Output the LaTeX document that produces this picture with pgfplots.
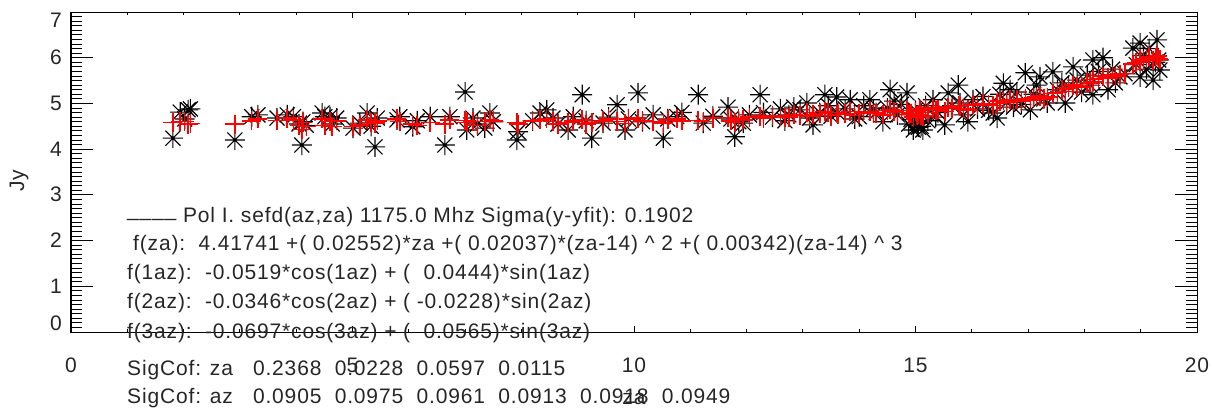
\documentclass[border=0pt]{standalone}
\usepackage{pgfplots}
\pgfplotsset{compat=1.18}
\usepackage{pgfplotstable}
\usepackage{fontspec}
\setmainfont{Liberation Sans}[LetterSpace=4]
\newcommand{\tf}{\fontsize{21bp}{25bp}\selectfont}
\pgfdeclareplotmark{idlast}{%
  \pgfpathmoveto{\pgfqpoint{-\pgfplotmarksize}{0pt}}\pgfpathlineto{\pgfqpoint{\pgfplotmarksize}{0pt}}%
  \pgfpathmoveto{\pgfqpoint{0pt}{-\pgfplotmarksize}}\pgfpathlineto{\pgfqpoint{0pt}{\pgfplotmarksize}}%
  \pgfpathmoveto{\pgfqpoint{-0.75\pgfplotmarksize}{-0.75\pgfplotmarksize}}\pgfpathlineto{\pgfqpoint{0.75\pgfplotmarksize}{0.75\pgfplotmarksize}}%
  \pgfpathmoveto{\pgfqpoint{-0.75\pgfplotmarksize}{0.75\pgfplotmarksize}}\pgfpathlineto{\pgfqpoint{0.75\pgfplotmarksize}{-0.75\pgfplotmarksize}}%
  \pgfusepathqstroke}
\pgfplotstableread{
x b r
1.81 4.24 4.58
1.94 4.81 4.60
2.02 4.66 4.61
2.08 4.86 4.55
2.12 4.88 4.56
2.91 4.20 4.55
3.21 4.71 4.62
3.32 4.75 4.66
3.66 4.68 4.63
3.84 4.75 4.68
3.95 4.71 4.64
4.05 4.55 4.52
4.10 4.09 4.43
4.12 4.60 4.58
4.18 4.52 4.50
4.46 4.79 4.66
4.51 4.71 4.52
4.60 4.71 4.60
4.64 4.55 4.49
4.72 4.68 4.62
5.01 4.46 4.49
5.13 4.57 4.53
5.26 4.79 4.64
5.33 4.50 4.58
5.40 4.05 4.57
5.44 4.68 4.62
5.79 4.64 4.66
5.84 4.71 4.60
6.07 4.49 4.55
6.15 4.62 4.52
6.38 4.71 4.58
6.64 4.09 4.55
6.73 4.71 4.64
7.00 5.25 4.63
7.03 4.42 4.58
7.14 4.68 4.60
7.22 4.55 4.52
7.35 4.46 4.60
7.44 4.79 4.65
7.50 4.60 4.62
7.92 4.20 4.58
7.94 4.38 4.55
8.20 4.62 4.62
8.33 4.79 4.64
8.45 4.86 4.66
8.56 4.68 4.60
8.65 4.55 4.55
8.83 4.42 4.58
8.92 4.71 4.62
9.08 5.19 4.64
9.15 4.62 4.55
9.25 4.24 4.58
9.45 4.57 4.62
9.55 4.70 4.66
9.70 4.97 4.60
9.84 4.42 4.56
9.90 4.66 4.66
10.07 5.23 4.68
10.15 4.60 4.62
10.34 4.75 4.60
10.52 4.24 4.57
10.60 4.66 4.64
10.76 4.71 4.66
10.85 4.80 4.62
11.14 5.19 4.63
11.23 4.57 4.60
11.40 4.72 4.68
11.67 4.92 4.69
11.72 4.66 4.62
11.79 4.27 4.58
11.86 4.60 4.66
11.94 4.57 4.64
12.05 4.75 4.70
12.24 5.19 4.72
12.30 4.80 4.68
12.46 4.70 4.73
12.60 4.88 4.72
12.68 4.62 4.70
12.75 4.75 4.70
12.84 4.92 4.76
12.95 4.86 4.74
13.07 5.01 4.80
13.12 4.68 4.72
13.18 4.53 4.75
13.30 4.80 4.78
13.39 5.19 4.82
13.45 4.95 4.80
13.50 4.72 4.74
13.60 5.14 4.80
13.62 4.79 4.76
13.75 4.88 4.77
13.84 5.08 4.82
13.92 4.66 4.74
14.00 4.71 4.78
14.08 4.95 4.80
14.19 5.08 4.82
14.25 4.88 4.78
14.30 4.80 4.79
14.42 4.60 4.75
14.50 4.90 4.84
14.55 5.30 4.86
14.62 5.05 4.83
14.68 4.75 4.80
14.75 4.98 4.85
14.85 5.23 4.84
14.88 4.55 4.76
14.92 4.65 4.78
14.96 4.42 4.70
15.00 4.85 4.82
15.03 4.57 4.74
15.05 4.48 4.76
15.08 4.72 4.86
15.10 4.50 4.74
15.13 4.42 4.72
15.18 4.95 4.88
15.22 4.62 4.80
15.31 5.08 4.90
15.36 4.70 4.84
15.40 4.80 4.86
15.52 4.53 4.82
15.58 5.23 4.92
15.65 4.95 4.90
15.76 5.40 4.96
15.79 5.01 4.93
15.85 4.75 4.88
15.93 4.60 4.86
16.02 5.08 4.98
16.10 4.88 4.95
16.20 5.15 5.00
16.30 4.85 4.98
16.38 4.79 4.96
16.45 4.68 5.00
16.50 5.20 5.05
16.56 5.44 5.06
16.62 5.02 5.02
16.68 5.30 5.08
16.74 4.92 5.04
16.80 5.25 5.08
16.88 4.98 5.04
16.95 5.67 5.10
17.04 4.86 5.06
17.10 5.20 5.12
17.15 5.40 5.14
17.21 5.58 5.16
17.28 5.10 5.10
17.34 5.01 5.14
17.44 5.69 5.22
17.52 5.30 5.24
17.60 5.45 5.30
17.66 5.01 5.26
17.72 5.38 5.34
17.80 5.80 5.40
17.87 5.51 5.38
17.95 5.25 5.36
18.05 5.62 5.46
18.10 5.40 5.45
18.15 5.95 5.52
18.15 5.19 5.48
18.25 5.70 5.55
18.33 6.00 5.60
18.42 5.30 5.56
18.50 5.75 5.62
18.55 5.45 5.60
18.63 5.58 5.64
18.72 5.65 5.66
18.86 6.21 5.86
18.92 5.85 5.90
18.99 6.32 5.96
18.99 5.58 5.92
19.05 6.05 5.94
19.10 5.75 5.98
19.15 6.20 6.02
19.22 5.51 5.95
19.26 5.90 6.00
19.29 6.39 6.04
19.32 5.95 5.98
19.34 5.73 5.96
}\data
\begin{document}
\begin{tikzpicture}
\useasboundingbox (-71bp,-78bp) rectangle (1141bp,332bp);
% axis carrying the y ticks
\begin{axis}[at={(0,0)}, anchor=south west, scale only axis,
  width=1126bp, height=320bp, xmin=0, xmax=20, ymin=0, ymax=7,
  xtick=\empty, ytick={0,...,7}, minor y tick num=9,
  major tick length=22bp, minor tick length=11bp,
  axis line style={line width=1bp},
  every tick/.style={black, line width=0.9bp},
  /pgf/number format/assume math mode=true,
  tick label style={font=\tf, text=black!85},
  yticklabel style={anchor=east, inner sep=0pt, xshift=-9bp},
  yticklabel={\smash{\raisebox{\ifnum\ticknum=0 2bp\else\ifnum\ticknum=7 -15bp\else -7bp\fi\fi}{\pgfmathprintnumber{\tick}}}},
  ]
\end{axis}
% axis carrying the x ticks and the data
\begin{axis}[at={(0,0)}, anchor=south west, scale only axis,
  width=1126bp, height=320bp, xmin=0, xmax=20, ymin=0, ymax=7,
  ytick=\empty, xtick={0,5,10,15,20}, minor x tick num=4,
  major tick length=6bp, minor tick length=3bp,
  axis line style={line width=1bp},
  every tick/.style={black, line width=0.9bp},
  /pgf/number format/assume math mode=true,
  tick label style={font=\tf, text=black!85},
  xticklabel style={anchor=base, inner sep=0pt, yshift=-40bp},
  xlabel={za},
  xlabel style={at={(axis description cs:0.5,0)}, anchor=base, inner sep=0pt, yshift=-72bp, font=\tf, text=black!85},
  ]
\addplot[only marks, mark=idlast, mark size=10bp, mark options={line width=1.15bp, black}] table[x=x, y=b]{\data};
\addplot[only marks, mark=+, mark size=9.5bp, mark options={line width=1.5bp, red}] table[x=x, y=r]{\data};
\end{axis}
\begin{scope}[every node/.style={font=\tf, text=black!85, inner sep=0pt, anchor=base west}]
\node[rotate=90, anchor=center] at (-52bp,151bp) {Jy};
\node at (56bp,109bp) {\raisebox{6bp}{\_\_\_\_} Pol I. sefd(az,za) 1175.0 Mhz Sigma(y-yfit): 0.1902};
\node at (62bp,81bp) {f(za):~~4.41741 +(~0.02552)*za +(~0.02037)*(za-14) \textasciicircum~2 +(~0.00342)(za-14) \textasciicircum~3};
\node at (56bp,52bp) {f(1az):~~-0.0519*cos(1az) + (~~0.0444)*sin(1az)};
\node at (56bp,24bp) {f(2az):~~-0.0346*cos(2az) + (~-0.0228)*sin(2az)};
\node at (56bp,-6bp) {f(3az):~~-0.0697*cos(3az) + (~~0.0565)*sin(3az)};
\node at (56bp,-43bp) {SigCof: za~~~0.2368~~0.0228~~0.0597~~0.0115};
\node at (56bp,-71bp) {SigCof: az~~~0.0905~~0.0975~~0.0961~~0.0913~~0.0918~~0.0949};
\end{scope}
\end{tikzpicture}
\end{document}
